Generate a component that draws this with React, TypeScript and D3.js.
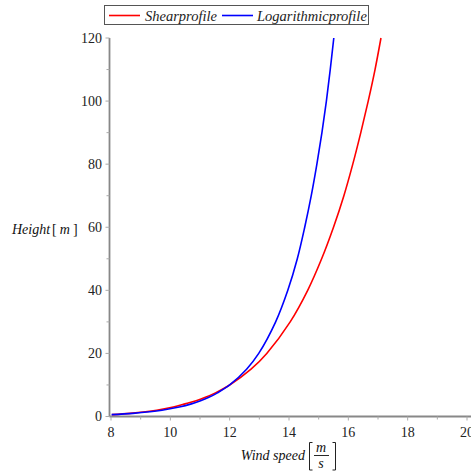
import { useEffect, useRef } from "react";
import * as d3 from "d3";

// heights in m
const heights = [0.6, 1, 1.5, 2, 3, 4, 5, 6, 7.5, 10, 15, 20, 30, 40, 50, 60, 70, 80, 90, 100, 110, 120];
// wind speeds in m/s
const shearSpeed = [8.03, 8.64, 9.16, 9.54, 10.1, 10.5, 10.87, 11.16, 11.52, 12.0, 12.72, 13.25, 14.04, 14.63, 15.1, 15.5, 15.85, 16.15, 16.42, 16.67, 16.9, 17.1];
const logSpeed = [8.02, 8.74, 9.31, 9.72, 10.3, 10.71, 11.02, 11.28, 11.59, 12.0, 12.57, 12.98, 13.55, 13.96, 14.28, 14.53, 14.75, 14.94, 15.11, 15.26, 15.39, 15.51];

const xTicks = [8, 10, 12, 14, 16, 18, 20];
const yTicks = [0, 20, 40, 60, 80, 100, 120];
const seriesNames = ["Shearprofile", "Logarithmicprofile"];
const seriesColors = ["#ff0000", "#0000ff"];

const W = 471;
const H = 472;
const FONT = "'Liberation Serif', serif";

const App = () => {
  const svgRef = useRef<SVGSVGElement>(null);

  useEffect(() => {
    const svg = d3.select(svgRef.current);
    svg.selectAll("*").remove();

    // scales
    const x = d3.scaleLinear().domain([8, 20]).range([111, 467]);
    const y = d3.scaleLinear().domain([0, 120]).range([416.5, 38]);

    const axisColor = "#888";
    const ax = 109.5;

    // axes lines
    svg.append("line")
      .attr("x1", ax).attr("x2", W)
      .attr("y1", y(0)).attr("y2", y(0))
      .attr("stroke", axisColor).attr("stroke-width", 1.8);
    svg.append("line")
      .attr("x1", ax).attr("x2", ax)
      .attr("y1", y(0)).attr("y2", y(120))
      .attr("stroke", axisColor).attr("stroke-width", 1.8);

    // x ticks
    d3.range(8, 21, 1).forEach((v) => {
      const major = v % 2 === 0;
      svg.append("line")
        .attr("x1", x(v)).attr("x2", x(v))
        .attr("y1", y(0)).attr("y2", y(0) + (major ? 4 : 3))
        .attr("stroke", "#aaa").attr("stroke-width", 1);
    });
    svg.append("g").selectAll("text").data(xTicks).enter().append("text")
      .attr("x", (d) => x(d))
      .attr("y", 437)
      .attr("text-anchor", "middle")
      .style("font-family", FONT)
      .style("font-size", "14px")
      .attr("fill", "#222")
      .text((d) => d);

    // y ticks
    d3.range(0, 121, 10).forEach((v) => {
      const major = v % 20 === 0;
      svg.append("line")
        .attr("x1", ax - (major ? 4 : 3)).attr("x2", ax)
        .attr("y1", y(v)).attr("y2", y(v))
        .attr("stroke", "#aaa").attr("stroke-width", 1);
    });
    svg.append("g").selectAll("text").data(yTicks).enter().append("text")
      .attr("x", 102)
      .attr("y", (d) => y(d) + 4.5)
      .attr("text-anchor", "end")
      .style("font-family", FONT)
      .style("font-size", "14px")
      .attr("fill", "#222")
      .text((d) => d);

    // curves
    const line = d3.line<number>()
      .x((d) => x(d))
      .y((_, i) => y(heights[i]))
      .curve(d3.curveCatmullRom);

    [shearSpeed, logSpeed].forEach((s, k) => {
      svg.append("path")
        .datum(s)
        .attr("d", line)
        .attr("fill", "none")
        .attr("stroke", seriesColors[k])
        .attr("stroke-width", 1.6);
    });

    // y label
    const yl = svg.append("text")
      .attr("x", 12).attr("y", 234)
      .style("font-family", FONT)
      .style("font-size", "14px")
      .attr("fill", "#111");
    yl.append("tspan").style("font-style", "italic").text("Height");
    yl.append("tspan").attr("dx", 2).text("[");
    yl.append("tspan").attr("dx", 3).style("font-style", "italic").text("m");
    yl.append("tspan").attr("dx", 3).text("]");

    // x label
    svg.append("text")
      .attr("x", 305).attr("y", 460)
      .attr("text-anchor", "end")
      .style("font-family", FONT)
      .style("font-size", "14px")
      .style("font-style", "italic")
      .attr("fill", "#111")
      .text("Wind speed");
    const bracket = (bx: number, dir: number) => {
      svg.append("path")
        .attr("d", `M${bx + dir * 3},442.5 H${bx} V470 H${bx + dir * 3}`)
        .attr("fill", "none")
        .attr("stroke", "#222")
        .attr("stroke-width", 1);
    };
    bracket(309.5, 1);
    bracket(335.5, -1);
    svg.append("text")
      .attr("x", 321).attr("y", 452)
      .attr("text-anchor", "middle")
      .style("font-family", FONT)
      .style("font-size", "14px")
      .style("font-style", "italic")
      .attr("fill", "#111")
      .text("m");
    svg.append("line")
      .attr("x1", 314).attr("x2", 329)
      .attr("y1", 455.5).attr("y2", 455.5)
      .attr("stroke", "#111").attr("stroke-width", 0.9);
    svg.append("text")
      .attr("x", 321).attr("y", 468)
      .attr("text-anchor", "middle")
      .style("font-family", FONT)
      .style("font-size", "14px")
      .style("font-style", "italic")
      .attr("fill", "#111")
      .text("s");

    // legend
    svg.append("rect")
      .attr("x", 104.5).attr("y", 5.5)
      .attr("width", 264).attr("height", 19)
      .attr("fill", "white")
      .attr("stroke", "#555").attr("stroke-width", 1);
    const lx = [109, 222];
    const tx = [145, 257];
    seriesNames.forEach((n, k) => {
      svg.append("line")
        .attr("x1", lx[k]).attr("x2", lx[k] + 31)
        .attr("y1", 15.5).attr("y2", 15.5)
        .attr("stroke", seriesColors[k]).attr("stroke-width", 1.6);
      svg.append("text")
        .attr("x", tx[k]).attr("y", 20.5)
        .style("font-family", FONT)
        .style("font-size", "14.5px")
        .style("font-style", "italic")
        .attr("fill", "#222")
        .text(n);
    });
  }, []);

  return (
    <svg
      ref={svgRef}
      width={W}
      height={H}
      style={{ position: "absolute", left: 0, top: 0, background: "white" }}
    />
  );
};

export default App;
